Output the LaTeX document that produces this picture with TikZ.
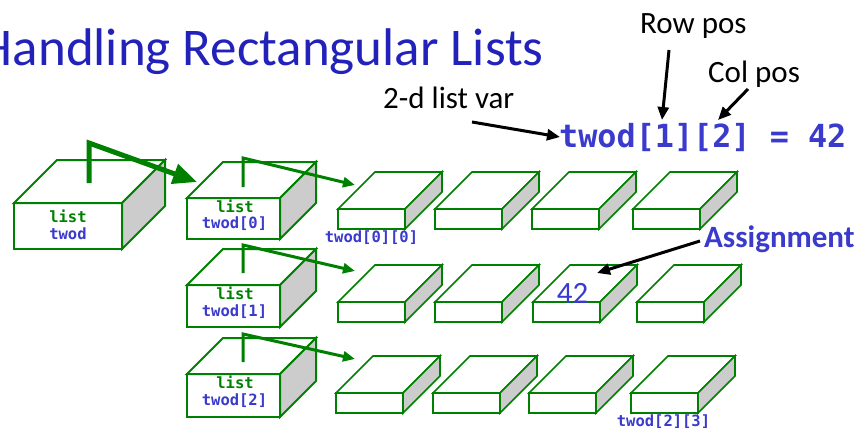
\documentclass[tikz,border=0pt]{standalone}
\usepackage{fontspec}
\setmainfont{Carlito}
\newfontfamily\codefont{DejaVu Sans Mono}
\usetikzlibrary{arrows.meta,calc}
\definecolor{boxgreen}{RGB}{0,128,0}
\definecolor{sidegray}{RGB}{204,204,204}
\definecolor{codeblue}{RGB}{58,58,204}
\definecolor{titleblue}{RGB}{34,34,187}
\newcommand\mycube[7][1.7pt]{%
  \node[frontbox, line width=#1, minimum width=#5pt, minimum height=#6pt, anchor=north west] (#2) at (#3,#4) {};
  \draw[face, line width=#1] (#2.north west) -- ++(#7,-#7) -- ++(#5,0) -- (#2.north east) -- cycle;
  \draw[side, line width=#1] (#2.north east) -- ++(#7,-#7) -- ++(0,#6) -- (#2.south east) -- cycle;
}
\begin{document}
\begin{tikzpicture}[x=1pt,y=-1pt,
  frontbox/.style={draw=boxgreen, fill=white, inner sep=0pt, outer sep=0pt},
  face/.style={draw=boxgreen, fill=white, line join=miter},
  side/.style={draw=boxgreen, fill=sidegray, line join=miter},
  ptr/.style={draw=boxgreen, line width=3pt, line join=miter, -{Triangle[length=12pt,width=10pt]}},
  bigptr/.style={draw=boxgreen, line width=5pt, line join=miter, -{Triangle[length=24pt,width=20pt]}},
  ann/.style={draw=black, line width=3pt, -{Triangle[length=13pt,width=11pt]}},
  code/.style={font=\codefont\bfseries\fontsize{15.5}{18}\selectfont, inner sep=0pt},
  greencode/.style={code, text=boxgreen},
  bluecode/.style={code, text=codeblue},
  label/.style={font=\fontsize{31}{36}\selectfont, text=black, inner sep=0pt}
]
\useasboundingbox (0,0) rectangle (862,431);

% title
\node[font=\fontsize{53}{60}\selectfont, text=titleblue, anchor=base east, inner sep=0pt] (title) at (544,65) {Handling Rectangular Lists};

% big box
\mycube[2pt]{big}{14}{203}{108}{46}{43}
\node[greencode] (bigl) at (68,216) {list};
\node[bluecode] (bign) at (68,234) {twod};

% row boxes
\mycube[2pt]{r0}{187}{198}{93}{41}{36}
\mycube[2pt]{r1}{187}{285}{93}{42}{36}
\mycube[2pt]{r2}{187}{374}{93}{43}{36}
\node[greencode] (r0l) at (235,206) {list};
\node[bluecode] (r0n) at (234.5,224) {twod[0]};
\node[greencode] (r1l) at (235,293) {list};
\node[bluecode] (r1n) at (234.5,312) {twod[1]};
\node[greencode] (r2l) at (235,382) {list};
\node[bluecode] (r2n) at (234.5,401) {twod[2]};

% element boxes
\mycube{e00}{338}{209}{67}{20}{37}
\mycube{e01}{435}{209}{67}{20}{37}
\mycube{e02}{532}{209}{67}{20}{37}
\mycube{e03}{633}{209}{67}{20}{37}
\mycube{e10}{338}{302}{67}{20}{37}
\mycube{e11}{435}{302}{67}{20}{37}
\mycube{e12}{533}{302}{67}{20}{37}
\mycube{e13}{637}{302}{67}{20}{37}
\mycube{e20}{336}{393}{67}{20}{37}
\mycube{e21}{433}{393}{67}{20}{37}
\mycube{e22}{529}{393}{67}{20}{37}
\mycube{e23}{631}{393}{67}{20}{37}

\node[bluecode] (l00) at (371.5,238) {twod[0][0]};
\node[bluecode] (l23) at (663.5,422) {twod[2][3]};
\node[font=\fontsize{31}{36}\selectfont, text=codeblue, inner sep=0pt] (v42) at (572.5,293) {42};

% pointers
\coordinate (bp0) at (89,183);
\coordinate (bp1) at (89,143);
\coordinate (bt) at (197,182);
\draw[bigptr] (bp0) -- (bp1) -- (bt);

\coordinate (p0a) at (243,187);
\coordinate (p0b) at (243,158);
\coordinate (t0) at (355,185);
\draw[ptr] (p0a) -- (p0b) -- (t0);
\coordinate (p1a) at (243,273);
\coordinate (p1b) at (243,245);
\coordinate (t1) at (355,271);
\draw[ptr] (p1a) -- (p1b) -- (t1);
\coordinate (p2a) at (243,362);
\coordinate (p2b) at (243,334);
\coordinate (t2) at (355,359);
\draw[ptr] (p2a) -- (p2b) -- (t2);

% code line and labels
\node[font=\codefont\bfseries\fontsize{31.8}{36}\selectfont, text=codeblue, anchor=base west, inner sep=0pt] (codeline) at (559,147) {twod[1][2] = 42};
\node[label, anchor=base west] (rowpos) at (640,33) {Row pos};
\node[label, anchor=base west] (colpos) at (708,82) {Col pos};
\node[label, anchor=base west] (listvar) at (383,108) {2-d list var};
\node[font=\bfseries\fontsize{31}{36}\selectfont, text=codeblue, anchor=base west, inner sep=0pt] (assign) at (704,247) {Assignment};

\coordinate (a1s) at (472,122);
\coordinate (a1t) at (560,137);
\draw[ann] (a1s) -- (a1t);
\coordinate (a2s) at (669,50);
\coordinate (a2t) at (662,120);
\draw[ann] (a2s) -- (a2t);
\coordinate (a3s) at (748,89);
\coordinate (a3t) at (718,120);
\draw[ann] (a3s) -- (a3t);
\coordinate (a4s) at (700,241);
\coordinate (a4t) at (597,273);
\draw[ann] (a4s) -- (a4t);
\end{tikzpicture}
\end{document}
